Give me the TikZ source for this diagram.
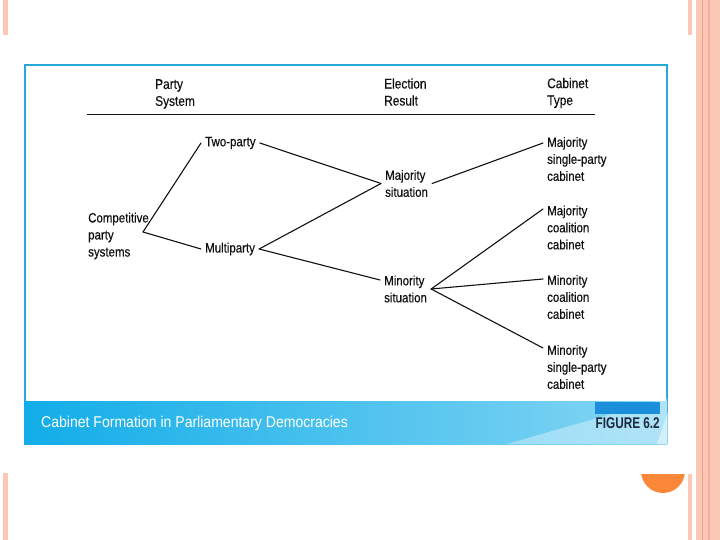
\documentclass[tikz,border=0pt]{standalone}
\usepackage{fontspec}
\setmainfont{Liberation Sans}
\newfontfamily\narrowsf[FakeStretch=0.85, FakeBold=0.4]{Liberation Sans}
\newfontfamily\capsf[FakeStretch=0.9]{Liberation Sans}
\newfontfamily\figsf[FakeStretch=0.76]{Liberation Sans}
\usepackage{xcolor}
\usepackage{tikz}
\usetikzlibrary{calc}
\definecolor{pinkBar}{HTML}{FAC8B5}
\definecolor{pinkLine}{HTML}{F2A285}
\definecolor{orangeDot}{HTML}{FB8838}
\definecolor{frame}{HTML}{2AA8D8}
\definecolor{bandL}{HTML}{12ADE8}
\definecolor{bandR}{HTML}{86D6F4}
\definecolor{bandDark}{HTML}{1B8FDA}
\definecolor{figText}{HTML}{1B2A40}
\definecolor{ink}{HTML}{111111}
\tikzset{
  branch/.style={draw=ink, line width=1.1pt, line cap=round},
  rule/.style={draw=ink, line width=0.9pt},
  headLbl/.style={anchor=west, inner sep=2pt, align=left, text=ink, font=\narrowsf\fontsize{14}{17}\selectfont},
  itemLbl/.style={anchor=west, inner sep=4pt, align=left, text=ink, font=\narrowsf\fontsize{13.5}{17}\selectfont},
  captionLbl/.style={inner sep=0pt, text=white, font=\capsf\fontsize{15.6}{17}\selectfont},
  figLbl/.style={inner sep=0pt, text=figText, font=\figsf\fontsize{15.5}{17}\selectfont\bfseries},
}

\begin{document}
\begin{tikzpicture}[x=1pt, y=-1pt]
  \useasboundingbox (0,0) rectangle (720,540);
  \fill[white] (0,0) rectangle (720,540);

  % slide decoration
  \fill[pinkBar] (3,0) rectangle (8,35);
  \fill[pinkBar] (3,473) rectangle (8,540);
  \fill[pinkBar] (688,0) rectangle (692,35);
  \fill[pinkBar] (688,474) rectangle (692,540);
  \fill[pinkBar] (696,0) rectangle (720,540);
  \draw[pinkLine, line width=1pt] (702.5,0) -- (702.5,540);
  \draw[pinkLine!60!pinkBar, line width=1.2pt] (709,0) -- (709,540);
  \begin{scope}
    \clip (630,474) rectangle (700,500);
    \fill[orangeDot] (663,471) circle (22);
  \end{scope}

  % figure frame and caption band
  \draw[frame, line width=1.2pt] (25,444) -- (25,65) -- (667,65) -- (667,444);
  \shade[left color=bandL, right color=bandR] (24,401) rectangle (667,444);
  \fill[white, opacity=0.35] (507,444) -- (667,398) -- (667,444) -- cycle;
  \fill[white, opacity=0.45] (657,444) -- (668,412) -- (668,444) -- cycle;
  \fill[bandDark] (595,402) rectangle (660,414);
  \node[captionLbl, anchor=west] (caption) at (41,423) {Cabinet Formation in Parliamentary Democracies};
  \node[figLbl, anchor=east] (figno) at (660,423.5) {FIGURE 6.2};

  % column heads
  \node[headLbl] (hParty) at (153,94) {Party\\System};
  \node[headLbl] (hElect) at (382,92) {Election\\Result};
  \node[headLbl] (hCab)   at (545,93) {Cabinet\\Type};
  \draw[rule] (87,114) -- (595,114);

  % tree labels
  \node[itemLbl] (cps)    at (84,236)    {Competitive\\party\\systems};
  \node[itemLbl] (twop)   at (201,143)   {Two-party};
  \node[itemLbl] (multi)  at (201,249)   {Multiparty};
  \node[itemLbl] (majSit) at (381,183.5) {Majority\\situation};
  \node[itemLbl] (minSit) at (380,289)   {Minority\\situation};
  \node[itemLbl] (majSP)  at (543,159)   {Majority\\single-party\\cabinet};
  \node[itemLbl] (majCo)  at (543,227.5) {Majority\\coalition\\cabinet};
  \node[itemLbl] (minCo)  at (543,297)   {Minority\\coalition\\cabinet};
  \node[itemLbl] (minSP)  at (543,367)   {Minority\\single-party\\cabinet};

  % branches
  \coordinate (root) at ($(cps.east)+(-10,-4)$);
  \draw[branch] (root) -- (twop.west);
  \draw[branch] (root) -- (multi.west);
  \draw[branch] (twop.east) -- (majSit.west);
  \draw[branch] (multi.east) -- (majSit.west);
  \draw[branch] (multi.east) -- ($(minSit.west)+(0,-9)$);
  \draw[branch] (majSit.east) -- ($(majSP.west)+(0,-16)$);
  \draw[branch] (minSit.east) -- ($(majCo.west)+(0,-18.5)$);
  \draw[branch] (minSit.east) -- ($(minCo.west)+(0,-18)$);
  \draw[branch] (minSit.east) -- ($(minSP.west)+(0,-19)$);
\end{tikzpicture}
\end{document}
